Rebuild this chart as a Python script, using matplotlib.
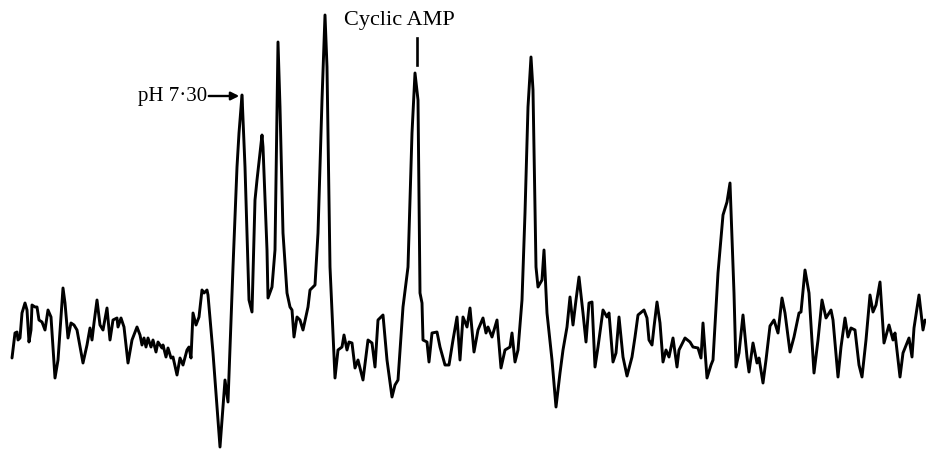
import matplotlib.pyplot as plt

# trace: position along the record and pen deflection
# (deflection measured downward from the top of the record)
position = [
    12, 15, 17, 18, 20, 22, 25, 27, 29, 31, 32, 35, 37, 39, 42, 45, 48, 51, 55, 58,
    63, 65, 68, 71, 74, 77, 83, 87, 90, 92, 94, 97, 100, 103, 107, 110, 113, 117, 118, 121,
    124, 128, 132, 137, 140, 142, 144, 146, 148, 151, 153, 156, 158, 162, 163, 166, 168, 171, 173, 177,
    180, 183, 187, 189, 191, 193, 196, 199, 202, 204, 207, 208, 213, 220, 225, 228,
    233, 237, 239, 242, 245, 249, 252, 255, 257, 262, 263, 267, 268, 272, 275, 278, 280, 283, 287, 290,
    292, 294, 297, 300, 303, 308, 310, 315, 318, 322, 325, 327, 330, 335, 338, 342, 344, 347, 349, 352,
    355, 358, 363, 368, 372, 375, 378, 383, 387, 392, 395, 398, 403, 408, 412, 415, 418, 420,
    422, 423, 427, 429, 432, 437, 440, 445, 449, 453, 457, 460, 463, 467, 470, 474, 478, 483, 486, 488,
    492, 497, 501, 505, 510, 512, 515, 518, 522, 525, 528, 531, 533, 536, 538, 542, 544, 547, 552, 556,
    560, 563, 567, 570, 573, 576, 579,
    583, 586, 589, 592, 595, 598, 603, 607, 609, 613, 616, 619, 623, 627, 632, 635, 638, 644, 647, 649,
    652, 654, 657, 660, 663, 666, 669, 673, 677, 679, 685, 690, 693, 698, 701, 703, 707, 711, 713, 718,
    723, 727, 730, 734, 736, 739, 743, 747,
    749, 753, 757, 759, 763, 766, 770, 774, 778, 782, 785, 790, 794, 799, 801, 805, 809, 814, 818, 822,
    826, 831, 833, 838, 841, 845, 848, 851, 855, 859, 862, 866, 870, 873, 876, 880, 884, 889, 893, 895,
    900, 903, 909, 912, 914, 919, 923, 925,
]
deflection = [
    358, 333, 332, 340, 338, 313, 303, 310, 342, 330, 305, 307, 307, 320, 322, 330, 310, 317, 378, 360,
    288, 303, 338, 323, 325, 330, 363, 345, 328, 340, 323, 300, 325, 330, 308, 340, 320, 318, 327, 318,
    327, 363, 340, 327, 335, 345, 338, 347, 338, 347, 340, 352, 342, 348, 345, 357, 348, 358, 357, 375,
    358, 365, 350, 347, 358, 313, 325, 317, 290, 293, 290, 295, 353, 447, 380, 402,
    267, 167, 133, 95, 167, 300, 312, 200, 180, 135, 147, 250, 298, 287, 250, 42, 107, 233, 293, 307,
    310, 337, 317, 320, 330, 307, 290, 285, 233, 100, 15, 67, 267, 378, 350, 347, 335, 350, 342, 343,
    368, 360, 380, 340, 343, 367, 320, 315, 360, 397, 385, 380, 307, 267, 133, 73, 100, 293,
    303, 340, 342, 362, 333, 332, 347, 365, 365, 340, 317, 360, 317, 327, 308, 352, 330, 318, 333, 327,
    337, 320, 368, 350, 347, 333, 362, 350, 300, 213, 107, 57, 90, 267, 287, 280, 250, 313, 360, 407,
    373, 350, 327, 297, 325, 300, 277,
    313, 342, 303, 302, 367, 347, 310, 317, 313, 362, 353, 317, 357, 376, 357, 337, 315, 310, 318, 340,
    345, 327, 302, 323, 362, 350, 357, 338, 367, 350, 338, 342, 347, 348, 358, 323, 378, 365, 360, 273,
    215, 202, 183, 293, 367, 353, 315, 357,
    372, 343, 363, 358, 383, 360, 326, 320, 333, 298, 313, 352, 337, 313, 312, 270, 293, 373, 340, 300,
    318, 310, 320, 377, 347, 318, 337, 328, 330, 365, 377, 340, 295, 312, 305, 282, 343, 325, 340, 333,
    377, 353, 338, 357, 328, 295, 330, 320,
]

labels = ["pH 7·30", "Cyclic AMP"]

fig = plt.figure(figsize=(9.26, 4.5), dpi=100)
ax = fig.add_axes([0, 0, 1, 1])
ax.plot(position, deflection, color="black", linewidth=2.1,
        solid_joinstyle="round", solid_capstyle="round")
ax.set_xlim(0, 926)
ax.set_ylim(450, 0)
ax.axis("off")

serif = ["Liberation Serif", "DejaVu Serif"]

# pH marker with arrow pointing at the first large peak
ax.text(138, 97, labels[0], ha="left", va="center", family=serif, fontsize=15, color="black")
ax.annotate("", xy=(242, 96), xytext=(206, 96),
            arrowprops=dict(arrowstyle="-|>", color="black", lw=1.7, mutation_scale=12))
ax.plot([242, 242], [96, 104], color="black", linewidth=1.7)

# cyclic AMP label with a short tick above its peak
ax.text(399, 20, labels[1], ha="center", va="center", family=serif, fontsize=16, color="black")
ax.plot([417, 417], [38, 65], color="black", linewidth=1.9)

fig.savefig("out.png", dpi=100)
